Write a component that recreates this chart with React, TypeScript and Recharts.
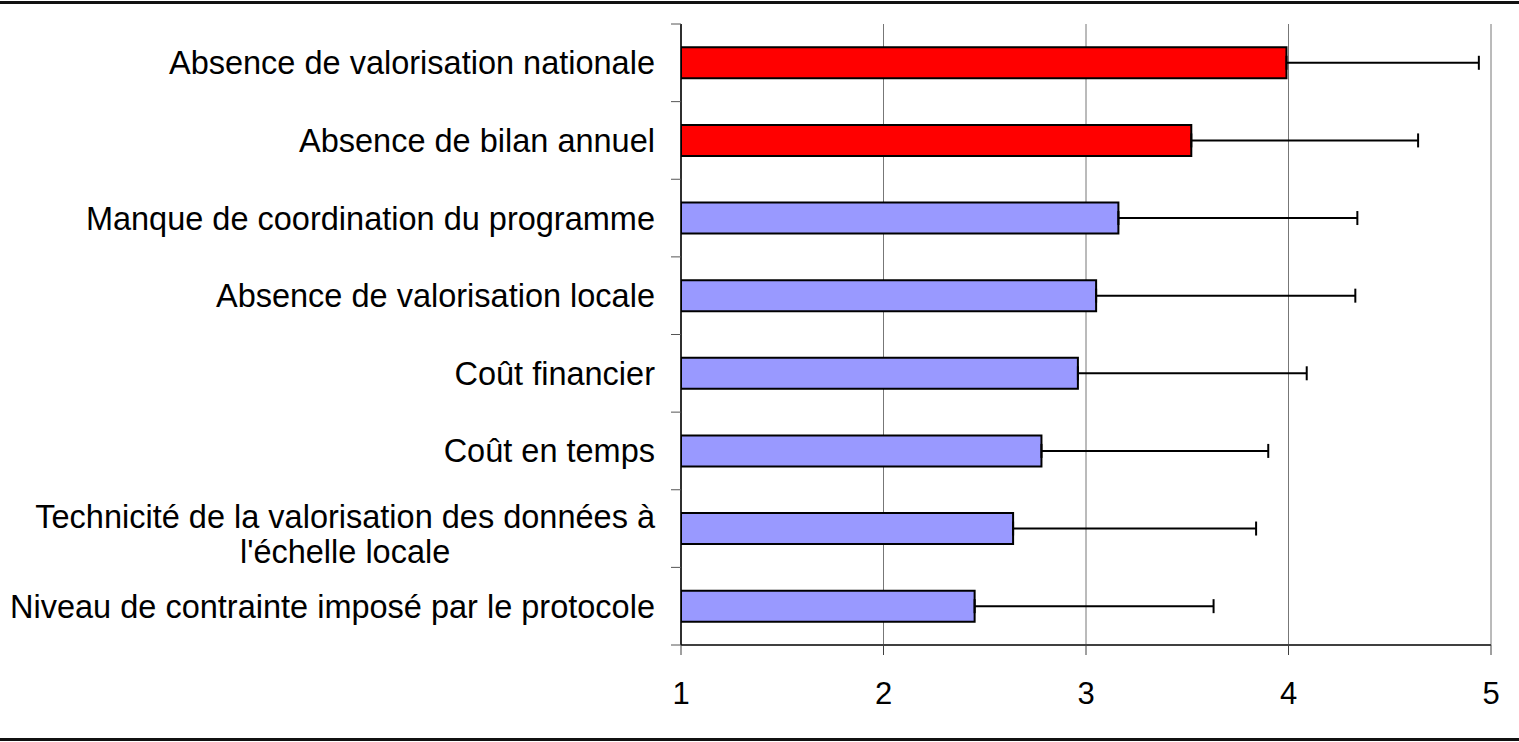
import React from 'react';
import { Bar, BarChart, CartesianGrid, Cell, ErrorBar, XAxis, YAxis } from 'recharts';

const CATEGORIES = [
  'Absence de valorisation nationale',
  'Absence de bilan annuel',
  'Manque de coordination du programme',
  'Absence de valorisation locale',
  'Coût financier',
  'Coût en temps',
  "Technicité de la valorisation des données à l'échelle locale",
  'Niveau de contrainte imposé par le protocole',
];
const MEANS = [3.99, 3.52, 3.16, 3.05, 2.96, 2.78, 2.64, 2.45];
const ERRORS = [0.95, 1.12, 1.18, 1.28, 1.13, 1.12, 1.2, 1.18];
const HIGHLIGHT = [true, true, false, false, false, false, false, false];
const X_TICKS = [1, 2, 3, 4, 5];

const WIDTH = 1519;
const HEIGHT = 742;
const MARGIN = { top: 24, right: 28, bottom: 0, left: 0 };
const Y_AXIS_W = 681;
const X_AXIS_H = 97;
const FONT = '"Liberation Sans", Arial, Helvetica, sans-serif';
const FONT_SIZE = 32.5;
const LINE_H = 35;
const TICK_SIZE = 10;
const TICK_MARGIN = 16;
const MAX_LABEL_W = 665;
const BAND = (HEIGHT - MARGIN.top - MARGIN.bottom - X_AXIS_H) / CATEGORIES.length;

const data = CATEGORIES.map((name, i) => ({
  name,
  value: MEANS[i],
  err: [0, ERRORS[i]],
}));

let ctx: CanvasRenderingContext2D | null = null;
const measure = (s: string) => {
  if (!ctx) ctx = document.createElement('canvas').getContext('2d');
  if (!ctx) return s.length * FONT_SIZE * 0.5;
  ctx.font = `${FONT_SIZE}px ${FONT}`;
  return ctx.measureText(s).width;
};

// retour à la ligne simple, comme Excel
const wrap = (label: string) => {
  const words = label.split(' ');
  const lines: string[] = [];
  let cur = '';
  words.forEach(w => {
    const next = cur ? `${cur} ${w}` : w;
    if (cur && measure(next) > MAX_LABEL_W) {
      lines.push(cur);
      cur = w;
    } else {
      cur = next;
    }
  });
  if (cur) lines.push(cur);
  return lines;
};

const CategoryTick = (props: any) => {
  const { x, y, payload, index } = props;
  const lines = wrap(String(payload.value));
  const blockCenter = x - measure(lines[0]) / 2;
  const lineX1 = x + TICK_MARGIN;
  const lineX2 = lineX1 + TICK_SIZE;
  const first = -((lines.length - 1) * LINE_H) / 2 + (lines.length > 1 ? 5 : 0);
  return (
    <g>
      <line x1={lineX1} x2={lineX2} y1={y - BAND / 2} y2={y - BAND / 2} stroke="#555" />
      {index === CATEGORIES.length - 1 && (
        <line x1={lineX1} x2={lineX2} y1={y + BAND / 2} y2={y + BAND / 2} stroke="#555" />
      )}
      {lines.map((ln, i) => (
        <text
          key={i}
          x={lines.length > 1 ? blockCenter : x}
          y={y + first + i * LINE_H}
          dy="0.355em"
          textAnchor={lines.length > 1 ? 'middle' : 'end'}
          fontFamily={FONT}
          fontSize={FONT_SIZE}
          fill="#000"
        >
          {ln}
        </text>
      ))}
    </g>
  );
};

const App: React.FC = () => {
  return (
    <div style={{ position: 'absolute', left: 0, top: 0, width: WIDTH, height: HEIGHT, background: '#fff' }}>
      <div style={{ position: 'absolute', left: 0, top: 1, width: WIDTH, height: 3, background: '#111' }} />
      <div style={{ position: 'absolute', left: 0, top: 738, width: WIDTH, height: 3, background: '#111' }} />
      <BarChart
        width={WIDTH}
        height={HEIGHT}
        data={data}
        layout="vertical"
        margin={MARGIN}
        barCategoryGap="30%"
      >
        <CartesianGrid horizontal={false} stroke="#777" />
        <XAxis
          type="number"
          domain={[1, 5]}
          ticks={X_TICKS}
          allowDataOverflow
          height={X_AXIS_H}
          tickSize={TICK_SIZE}
          tickMargin={27}
          axisLine={{ stroke: '#404040', strokeWidth: 2 }}
          tickLine={{ stroke: '#404040' }}
          tick={{ fill: '#000', fontSize: 31, fontFamily: FONT }}
        />
        <XAxis
          xAxisId="top"
          orientation="top"
          type="number"
          domain={[1, 5]}
          height={0}
          tick={false}
          tickLine={false}
          axisLine={{ stroke: '#999', strokeWidth: 2 }}
        />
        <YAxis
          type="category"
          dataKey="name"
          width={Y_AXIS_W}
          tickSize={TICK_SIZE}
          tickMargin={TICK_MARGIN}
          tickLine={false}
          axisLine={{ stroke: '#000', strokeWidth: 1.5 }}
          tick={<CategoryTick />}
          interval={0}
        />
        <YAxis
          yAxisId="right"
          orientation="right"
          type="category"
          dataKey="name"
          width={0}
          tick={false}
          tickLine={false}
          axisLine={{ stroke: '#999', strokeWidth: 2 }}
        />
        <Bar dataKey="value" stroke="#000" strokeWidth={2} isAnimationActive={false}>
          {data.map((d, i) => (
            <Cell key={d.name} fill={HIGHLIGHT[i] ? '#FF0000' : '#9999FF'} />
          ))}
          <ErrorBar dataKey="err" direction="x" width={7} stroke="#000" strokeWidth={2} />
        </Bar>
      </BarChart>
    </div>
  );
};

export default App;
